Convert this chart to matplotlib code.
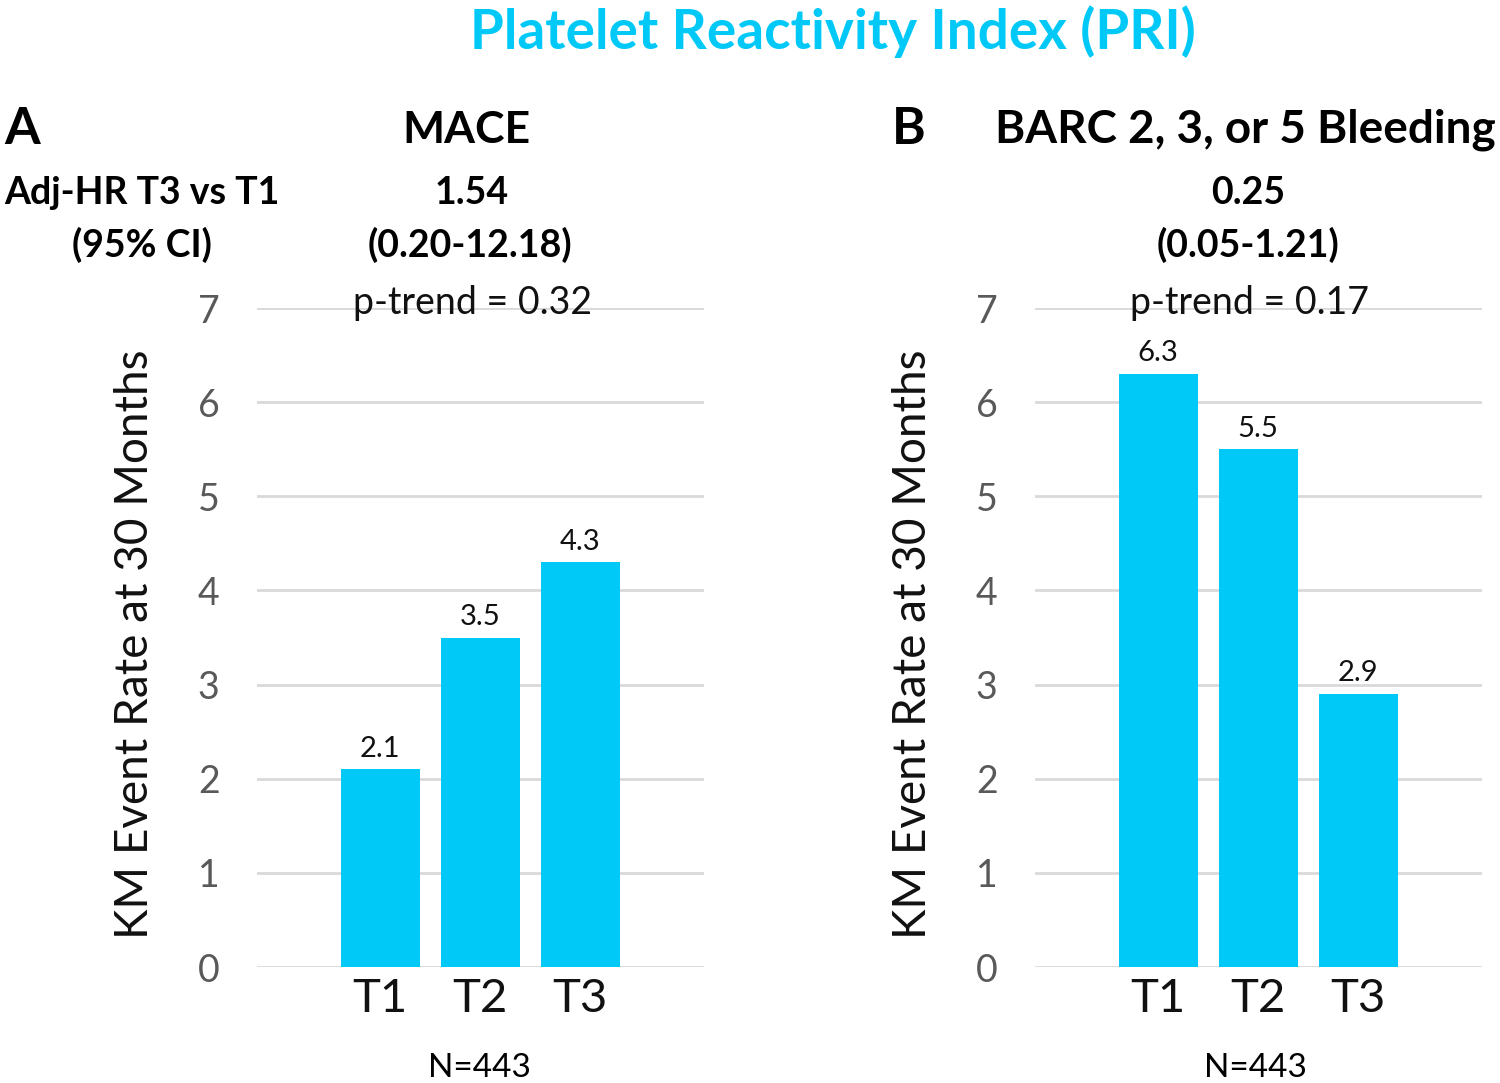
import numpy as np
import matplotlib.pyplot as plt

plt.rcParams['font.family'] = ['Lato', 'DejaVu Sans']

groups = ['T1', 'T2', 'T3']
mace = [2.1, 3.5, 4.3]
bleed = [6.3, 5.5, 2.9]
mace_labels = ['2.1', '3.5', '4.3']
bleed_labels = ['6.3', '5.5', '2.9']
yticks = [0, 1, 2, 3, 4, 5, 6, 7]

W, H = 1500, 1083
cyan = '#00C8F7'
grid_c = '#D9D9D9'
tick_c = '#595959'

fig = plt.figure(figsize=(15, 10.83), dpi=100)

def px(x, y):
    return x / W, 1 - y / H

def panel(left, vals, labels):
    ax = fig.add_axes([left / W, (H - 967) / H, 447 / W, 659 / H])
    x = np.arange(len(groups))
    ax.bar(x, vals, width=0.79, color=cyan, zorder=2)
    for xi, v, lab in zip(x, vals, labels):
        ax.text(xi, v + 0.08, lab, ha='center', va='bottom', fontsize=21, color='#111111')
    ax.set_ylim(0, 7)
    ax.set_xlim(-1.23, 3.24)
    ax.set_yticks(yticks)
    ax.set_xticks(x)
    ax.set_xticklabels(groups, fontsize=34, color='#111111')
    ax.tick_params(axis='y', labelsize=27, labelcolor=tick_c, length=0, pad=27)
    ax.tick_params(axis='x', length=0, pad=8)
    ax.yaxis.grid(True, color=grid_c, linewidth=2, zorder=0)
    ax.set_axisbelow(True)
    for s in ax.spines.values():
        s.set_visible(False)
    ax.set_ylabel('KM Event Rate at 30 Months', fontsize=33, color='#111111')
    ax.yaxis.set_label_coords(-0.225, 0.49)
    return ax

axA = panel(257, mace, mace_labels)
axB = panel(1035, bleed, bleed_labels)

fig.text(*px(833, 32), 'Platelet Reactivity Index (PRI)', ha='center', va='center',
         fontsize=39.5, fontweight='bold', color=cyan)

fig.text(*px(4, 130), 'A', ha='left', va='center', fontsize=37, fontweight='bold')
fig.text(*px(466, 130), 'MACE', ha='center', va='center', fontsize=32, fontweight='bold')
fig.text(*px(892, 130), 'B', ha='left', va='center', fontsize=37, fontweight='bold')
fig.text(*px(1245, 130), 'BARC 2, 3, or 5 Bleeding', ha='center', va='center', fontsize=33, fontweight='bold')

fig.text(*px(142, 193), 'Adj-HR T3 vs T1', ha='center', va='center', fontsize=27, fontweight='bold')
fig.text(*px(142, 245), '(95% CI)', ha='center', va='center', fontsize=27, fontweight='bold')
fig.text(*px(472, 193), '1.54', ha='center', va='center', fontsize=27, fontweight='bold')
fig.text(*px(470, 245), '(0.20-12.18)', ha='center', va='center', fontsize=27, fontweight='bold')
fig.text(*px(1248, 193), '0.25', ha='center', va='center', fontsize=27, fontweight='bold')
fig.text(*px(1248, 245), '(0.05-1.21)', ha='center', va='center', fontsize=27, fontweight='bold')

fig.text(*px(473, 303), 'p-trend = 0.32', ha='center', va='center', fontsize=27, color='#111111')
fig.text(*px(1250, 303), 'p-trend = 0.17', ha='center', va='center', fontsize=27, color='#111111')

fig.text(*px(479, 1068), 'N=443', ha='center', va='center', fontsize=24)
fig.text(*px(1255, 1068), 'N=443', ha='center', va='center', fontsize=24)

fig.savefig('out.png', dpi=100, facecolor='white')
